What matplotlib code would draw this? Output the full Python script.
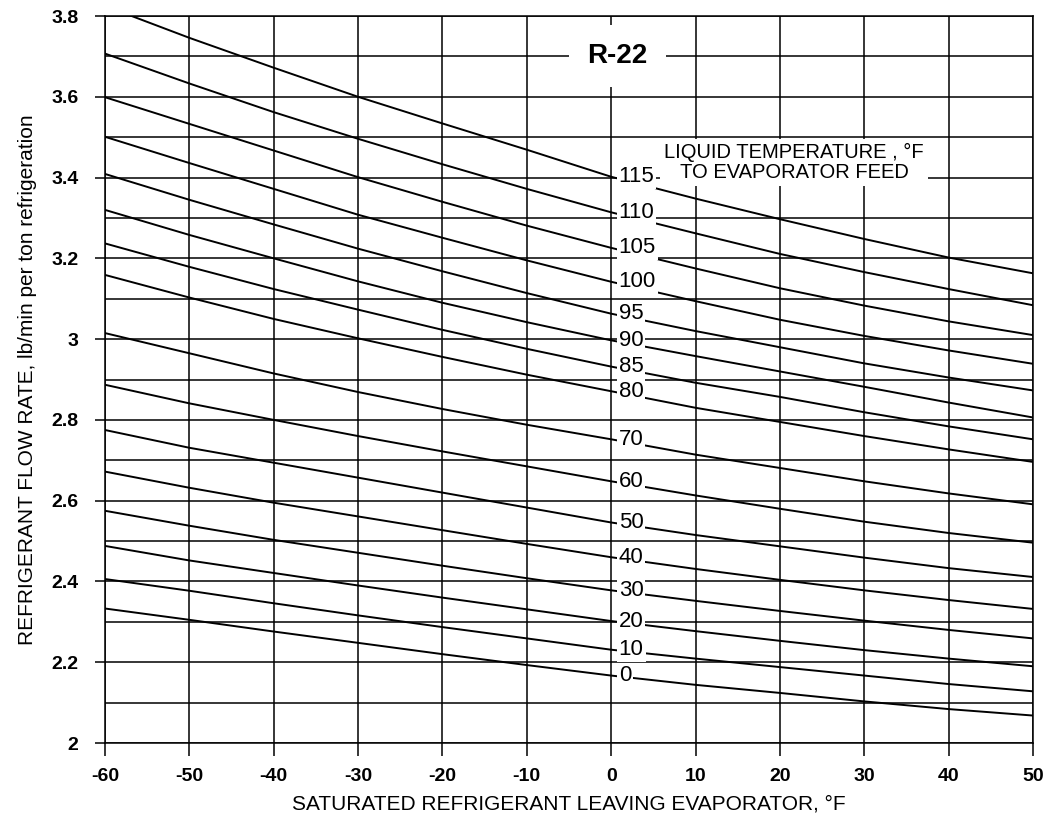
import matplotlib
matplotlib.use('Agg')
import matplotlib.pyplot as plt

plt.rcParams['font.family'] = ['Liberation Sans', 'DejaVu Sans']
plt.rcParams['axes.unicode_minus'] = False

# saturated temperature leaving evaporator, F
evap_temps = [-60, -50, -40, -30, -20, -10, 0, 10, 20, 30, 40, 50]

# liquid temperature to evaporator feed, F
liquid_temps = [0, 10, 20, 30, 40, 50, 60, 70, 80, 85, 90, 95, 100, 105, 110, 115]

# flow rate, lb/min per ton, one list per liquid temperature
flow_0 = [2.333, 2.305, 2.276, 2.248, 2.220, 2.193, 2.167, 2.144, 2.124, 2.103, 2.084, 2.068]
flow_10 = [2.406, 2.377, 2.346, 2.316, 2.287, 2.259, 2.231, 2.209, 2.188, 2.167, 2.146, 2.128]
flow_20 = [2.488, 2.452, 2.421, 2.390, 2.360, 2.331, 2.302, 2.277, 2.253, 2.230, 2.209, 2.190]
flow_30 = [2.575, 2.538, 2.503, 2.471, 2.439, 2.408, 2.378, 2.352, 2.327, 2.303, 2.280, 2.259]
flow_40 = [2.672, 2.632, 2.595, 2.561, 2.527, 2.493, 2.460, 2.431, 2.404, 2.378, 2.354, 2.332]
flow_50 = [2.775, 2.731, 2.694, 2.657, 2.620, 2.583, 2.546, 2.515, 2.487, 2.459, 2.433, 2.411]
flow_60 = [2.887, 2.841, 2.800, 2.760, 2.722, 2.685, 2.648, 2.613, 2.580, 2.548, 2.520, 2.496]
flow_70 = [3.015, 2.965, 2.915, 2.869, 2.827, 2.788, 2.752, 2.714, 2.681, 2.648, 2.618, 2.591]
flow_80 = [3.159, 3.103, 3.050, 3.002, 2.956, 2.912, 2.871, 2.830, 2.795, 2.760, 2.727, 2.696]
flow_85 = [3.237, 3.179, 3.124, 3.073, 3.023, 2.976, 2.932, 2.892, 2.857, 2.819, 2.784, 2.752]
flow_90 = [3.320, 3.258, 3.200, 3.143, 3.090, 3.042, 2.997, 2.958, 2.920, 2.882, 2.843, 2.806]
flow_95 = [3.409, 3.345, 3.284, 3.224, 3.168, 3.114, 3.063, 3.020, 2.980, 2.940, 2.905, 2.873]
flow_100 = [3.501, 3.436, 3.372, 3.308, 3.251, 3.195, 3.142, 3.094, 3.048, 3.008, 2.972, 2.939]
flow_105 = [3.599, 3.533, 3.467, 3.401, 3.340, 3.281, 3.226, 3.175, 3.126, 3.083, 3.044, 3.010]
flow_110 = [3.707, 3.633, 3.562, 3.496, 3.433, 3.372, 3.314, 3.262, 3.211, 3.166, 3.124, 3.084]
flow_115 = [3.825, 3.746, 3.672, 3.600, 3.534, 3.469, 3.402, 3.348, 3.297, 3.248, 3.202, 3.163]

curves = [flow_0, flow_10, flow_20, flow_30, flow_40, flow_50, flow_60, flow_70,
          flow_80, flow_85, flow_90, flow_95, flow_100, flow_105, flow_110, flow_115]

# axis ticks and their printed labels
x_ticks = [-60, -50, -40, -30, -20, -10, 0, 10, 20, 30, 40, 50]
y_ticks = [2.0, 2.2, 2.4, 2.6, 2.8, 3.0, 3.2, 3.4, 3.6, 3.8]
y_tick_labels = ['2', '2.2', '2.4', '2.6', '2.8', '3', '3.2', '3.4', '3.6', '3.8']
y_minor = [2.1, 2.3, 2.5, 2.7, 2.9, 3.1, 3.3, 3.5, 3.7]

fig = plt.figure(figsize=(10.52, 8.22), dpi=100)
ax = fig.add_axes([0.0998, 0.0961, 0.8821, 0.8844])

ax.set_xlim(-60, 50)
ax.set_ylim(2.0, 3.8)

ax.set_xticks(x_ticks)
ax.set_xticklabels([str(t) for t in x_ticks], fontsize=14, fontweight='bold')
ax.set_yticks(y_ticks)
ax.set_yticklabels(y_tick_labels, fontsize=14, fontweight='bold')
ax.set_yticks(y_minor, minor=True)
ax.grid(which='both', color='black', linewidth=1.1, zorder=1)
ax.set_axisbelow(True)
ax.tick_params(axis='x', which='major', length=9, width=1.1, pad=9)
ax.tick_params(axis='y', which='major', length=7, width=1.1, pad=12)
ax.tick_params(axis='y', which='minor', length=0)
for s in ax.spines.values():
    s.set_linewidth(1.1)

for temp, flow in zip(liquid_temps, curves):
    ax.plot(evap_temps, flow, color='black', linewidth=1.4, zorder=2)
    # label sits where the curve crosses 0 F
    y0 = flow[evap_temps.index(0)]
    ax.text(0.9, y0, str(temp), fontsize=16, ha='left', va='center', zorder=4,
            bbox=dict(facecolor='white', edgecolor='none', pad=1.5))

ax.text(0.75, 3.70, 'R-22', fontsize=20, fontweight='bold', ha='center', va='center',
        zorder=4, bbox=dict(facecolor='white', edgecolor='none', pad=13))
ax.text(21.7, 3.437, 'LIQUID TEMPERATURE , °F\nTO EVAPORATOR FEED', fontsize=14.5,
        ha='center', va='center', multialignment='center', linespacing=1.05, zorder=4,
        bbox=dict(facecolor='white', edgecolor='none', pad=3))

ax.set_xlabel('SATURATED REFRIGERANT LEAVING EVAPORATOR, °F', fontsize=15, labelpad=7)
ax.set_ylabel('REFRIGERANT FLOW RATE, lb/min per ton refrigeration', fontsize=15, labelpad=10)

fig.savefig('out.png', dpi=100)
